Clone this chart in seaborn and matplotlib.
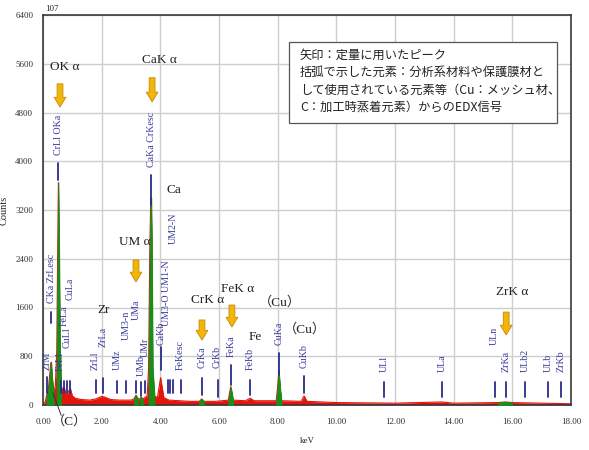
import matplotlib
matplotlib.use("Agg")
import matplotlib.pyplot as plt
from matplotlib.patches import Rectangle
import seaborn as sns
import pandas as pd

# EDX spectrum (keV, counts)
energy = [0.00, 0.08, 0.12, 0.18, 0.22, 0.26, 0.28, 0.31, 0.36, 0.42, 0.47, 0.50,
          0.525, 0.55, 0.58, 0.62, 0.68, 0.72, 0.78, 0.85, 0.93, 1.00, 1.10, 1.30,
          1.60, 1.80, 2.00, 2.10, 2.30, 2.60, 3.00, 3.10, 3.17, 3.24, 3.30, 3.34,
          3.40, 3.55, 3.60, 3.64, 3.67, 3.69, 3.71, 3.74, 3.80, 3.90, 3.96, 4.01,
          4.06, 4.12, 4.30, 5.00, 5.33, 5.41, 5.49, 5.90, 6.32, 6.36, 6.40, 6.44,
          6.48, 6.90, 7.06, 7.20, 7.95, 7.99, 8.04, 8.09, 8.13, 8.80, 8.90, 9.00,
          10.00, 12.00, 13.60, 14.00, 15.50, 15.77, 16.00, 18.00]
counts = [0, 60, 150, 250, 450, 650, 700, 450, 250, 300, 900, 2500,
          3650, 2600, 900, 300, 250, 300, 180, 200, 280, 150, 110, 90,
          80, 100, 140, 130, 90, 80, 80, 100, 160, 100, 100, 130,
          100, 150, 600, 2500, 3300, 3400, 2700, 600, 150, 120, 300, 450,
          300, 120, 80, 60, 60, 100, 60, 60, 80, 200, 300, 200,
          80, 70, 110, 70, 70, 250, 560, 250, 70, 60, 150, 60,
          40, 30, 50, 30, 40, 50, 40, 20]

# energy windows drawn in green
green_lo = [0.12, 0.44, 3.10, 3.30, 3.58, 5.33, 6.32, 7.95, 15.50]
green_hi = [0.36, 0.62, 3.24, 3.40, 3.80, 5.49, 6.48, 8.13, 16.00]

# peak markers: name, keV, marker line bottom/top, label base (counts)
marker_names = ["ZrM", "CKa ZrLesc", "CrLl OKa", "FeLl", "FeLa", "CuLl", "CuLa",
                "ZrLl", "ZrLa", "UMz", "UM3-n", "UMa", "UMb", "UMr",
                "CaKa CrKesc", "CaKb", "UM3-O UM1-N", "UM2-N", "", "", "", "FeKesc",
                "CrKa", "CrKb", "FeKa", "FeKb", "CuKa", "CuKb",
                "ULl", "ULa", "ULn", "ZrKa", "ULb2", "ULb", "ZrKb"]
marker_kev = [0.15, 0.28, 0.525, 0.60, 0.72, 0.811, 0.93,
              1.79, 2.04, 2.52, 2.83, 3.17, 3.34, 3.48,
              3.69, 4.01, 4.20, 4.43, 4.27, 4.33, 4.44, 4.69,
              5.41, 5.95, 6.40, 7.06, 8.04, 8.90,
              11.62, 13.61, 15.40, 15.77, 16.43, 17.22, 17.67]
marker_low = [200, 1345, 3690, 200, 200, 200, 200,
              200, 200, 200, 200, 200, 150, 200,
              3280, 575, None, None, 200, 200, 200, 200,
              164, 131, 328, 164, 492, 197,
              131, 131, 131, 131, 131, 131, 131]
marker_high = [460, 1530, 3970, 400, 400, 400, 400,
               410, 440, 400, 400, 400, 380, 400,
               3775, 950, None, None, 410, 410, 410, 410,
               443, 410, 656, 410, 853, 476,
               377, 377, 377, 377, 377, 377, 377]
label_base = [575, 1675, 4100, 560, 1300, 930, 1720,
              575, 950, 575, 1065, 1395, 480, 790,
              3905, 985, 1300, 2650, None, None, None, 575,
              607, 607, 788, 574, 985, 607,
              541, 541, 985, 541, 541, 541, 541]

# quantified peaks: arrow keV, tail, tip (counts)
arrow_kev = [0.58, 3.72, 3.17, 5.42, 6.44, 15.79]
arrow_tail = [5270, 5370, 2380, 1395, 1640, 1525]
arrow_tip = [4890, 4975, 2020, 1065, 1280, 1150]

notes = ["OK α", "CaK α", "UM α", "Ca", "Zr", "CrK α", "FeK α", "Fe",
         "（Cu）", "（Cu）", "ZrK α", "（C）"]
note_kev = [0.73, 3.96, 3.14, 4.45, 2.05, 5.6, 6.62, 7.23, 8.08, 8.93, 16.0, 0.9]
note_cnt = [5550, 5660, 2675, 3530, 1560, 1720, 1900, 1115, 1675, 1245, 1855, -263]

box_lines = ["矢印：定量に用いたピーク",
             "括弧で示した元素：分析系材料や保護膜材と",
             "して使用されている元素等（Cu：メッシュ材、",
             "C：加工時蒸着元素）からのEDX信号"]

x_ticks = [0, 2, 4, 6, 8, 10, 12, 14, 16, 18]
y_ticks = [0, 800, 1600, 2400, 3200, 4000, 4800, 5600, 6400]

sns.set_style("white")
plt.rcParams["font.family"] = ["Liberation Serif", "Noto Sans CJK JP", "DejaVu Sans"]

fig = plt.figure(figsize=(5.89, 4.5), dpi=100)
ax = fig.add_axes([43 / 589, 45 / 450, 528 / 589, 390 / 450])

spec = pd.DataFrame({"keV": energy, "Counts": counts})
ax.fill_between(spec["keV"], 0, spec["Counts"], color="#e3140c", lw=0, zorder=2)
sns.lineplot(data=spec, x="keV", y="Counts", color="#e3140c", lw=0.8, ax=ax, zorder=2)
for lo, hi in zip(green_lo, green_hi):
    part = spec[(spec["keV"] >= lo) & (spec["keV"] <= hi)]
    ax.fill_between(part["keV"], 0, part["Counts"], color="#15901a", lw=0.6,
                    edgecolor="#15901a", zorder=3)

blue = "#3a3a9e"
for name, kev, lo, hi, base in zip(marker_names, marker_kev, marker_low,
                                   marker_high, label_base):
    if lo is not None:
        ax.plot([kev, kev], [lo, hi], color="#2b2b8c", lw=1.3, zorder=4)
    if name and base is not None:
        ax.text(kev, base, name, rotation=90, ha="center", va="bottom",
                fontsize=7.2, color=blue, zorder=5)

for kev, tail, tip in zip(arrow_kev, arrow_tail, arrow_tip):
    ax.annotate("", xy=(kev, tip), xytext=(kev, tail),
                arrowprops=dict(arrowstyle="simple,head_length=0.7,head_width=0.85,tail_width=0.42",
                                mutation_scale=10, fc="#f3b50a", ec="#c58a00", lw=0.6,
                                shrinkA=0, shrinkB=0), zorder=6)

for txt, kev, cnt in zip(notes, note_kev, note_cnt):
    ax.text(kev, cnt, txt, ha="center", va="center", fontsize=9.5,
            color="#222222", clip_on=False, zorder=6)
ax.plot([0.34, 0.62], [197, -170], color="#333333", lw=0.7, clip_on=False, zorder=6)

ax.set_xlim(0, 18)
ax.set_ylim(0, 6400)
ax.set_xticks(x_ticks)
ax.set_xticklabels([f"{v:.2f}" for v in x_ticks])
ax.set_yticks(y_ticks)
ax.grid(True, color="#cdcdcd", lw=1, zorder=0)
ax.set_axisbelow(True)
ax.tick_params(axis="both", labelsize=6.5, colors="#333333", length=4, width=1,
               direction="out", pad=3)
ax.tick_params(axis="x", pad=5)
ax.set_xlabel("keV", fontsize=6.5)
ax.xaxis.set_label_coords(0.5, -(437 - 405) / 390)
ax.set_ylabel("Counts", fontsize=7.5)
ax.yaxis.set_label_coords(-(43 - 9) / 528, 0.5)
for side in ["left", "bottom", "right", "top"]:
    ax.spines[side].set_color("#3a3a3a")
    ax.spines[side].set_linewidth(1.2)

fig.text(45 / 589, 1 - 9 / 450, "107", fontsize=6.5, ha="left", va="center")

fig.patches.append(Rectangle((289 / 589, 1 - 123 / 450), 268 / 589, 81 / 450,
                             transform=fig.transFigure, fc="white", ec="#555555",
                             lw=0.9, zorder=10))
for i, line in enumerate(box_lines):
    fig.text(300 / 589, 1 - (55 + 17.5 * i) / 450, line, fontsize=8.8,
             family=["Noto Sans CJK JP", "DejaVu Sans"], ha="left", va="center",
             color="#222222", zorder=11)

fig.savefig("out.png", dpi=100)
